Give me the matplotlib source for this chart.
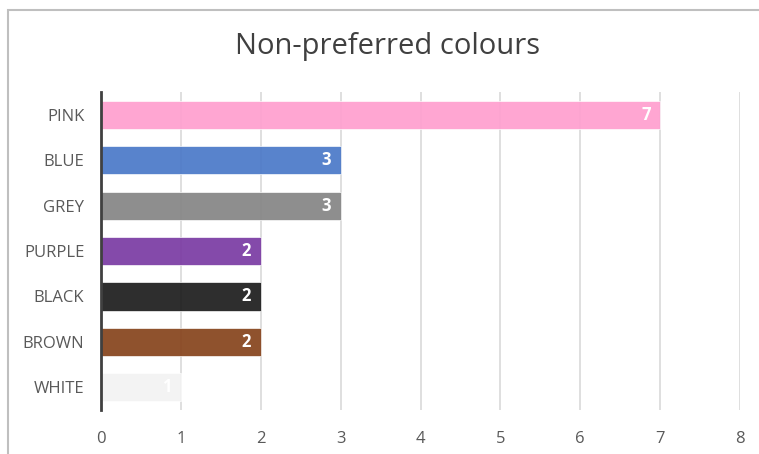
import matplotlib.pyplot as plt
from matplotlib.patches import Rectangle

# colours nobody picked, and how many times
colours = ["PINK", "BLUE", "GREY", "PURPLE", "BLACK", "BROWN", "WHITE"]
counts = [7, 3, 3, 2, 2, 2, 1]
bar_colours = ["#FF9FCF", "#4A78C8", "#858585", "#7A3AA3", "#1C1C1C", "#86431B", "#F2F2F2"]

plt.rcParams['font.family'] = ['Open Sans', 'DejaVu Sans']

fig = plt.figure(figsize=(7.59, 4.54), dpi=100)
ax = fig.add_axes([0.1331, 0.0969, 0.8419, 0.7004])

# chart border, cut off on the right and at the bottom
fig.patches.append(Rectangle((8 / 759, -0.1), 1.1, 0.1 + (454 - 10) / 454,
                             transform=fig.transFigure, fill=False,
                             edgecolor="#BFBFBF", linewidth=1.5))

ypos = list(range(len(colours)))
bars = ax.barh(ypos, counts, height=0.62, color=bar_colours, alpha=0.92,
               edgecolor="white", linewidth=0.5, zorder=2)

for y, v in zip(ypos, counts):
    ax.text(v - 0.12, y, str(v), ha="right", va="center", color="white",
            fontsize=12, fontweight="bold", zorder=3)

ax.set_xlim(0, 8)
ax.set_ylim(len(colours) - 0.5, -0.5)
ax.set_yticks(ypos)
ax.set_yticklabels(colours)
ax.set_xticks(range(9))

ax.grid(axis="x", color="#D9D9D9", linewidth=1.2, zorder=0)
ax.set_axisbelow(True)
for side in ["top", "right", "bottom"]:
    ax.spines[side].set_visible(False)
ax.spines["left"].set_color("#404040")
ax.spines["left"].set_linewidth(2)
ax.spines["left"].set_zorder(4)

ax.tick_params(axis="both", length=0, labelsize=12, colors="#595959")
ax.tick_params(axis="x", pad=15)
ax.tick_params(axis="y", pad=12)

fig.text(0.511, 0.897, "Non-preferred colours", ha="center", va="center",
         fontsize=21, color="#404040")

fig.savefig("out.png", dpi=100)
